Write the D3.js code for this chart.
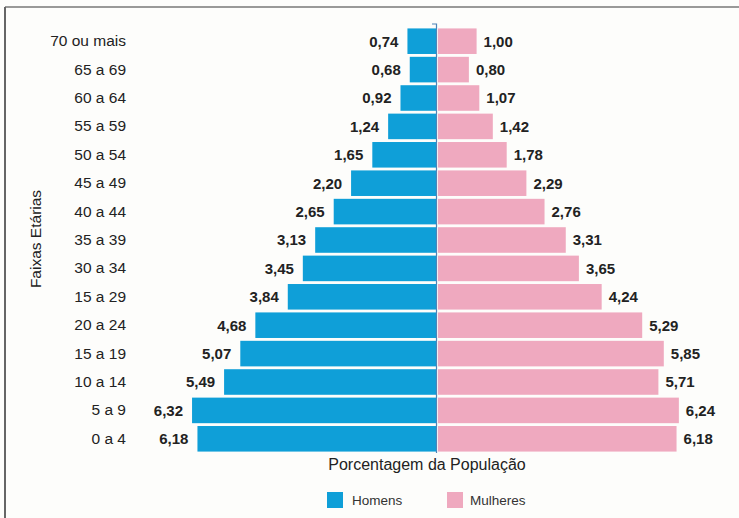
<!DOCTYPE html>
<html>
<head>
<meta charset="utf-8">
<script src="https://cdn.jsdelivr.net/npm/d3@7"></script>
<style>
  body { margin:0; background:#fdfdfb; }
  svg { display:block; font-family: "Liberation Sans", Arial, sans-serif; }
</style>
</head>
<body>
<div id="chart"></div>
<script>
const ages = ["70 ou mais","65 a 69","60 a 64","55 a 59","50 a 54","45 a 49","40 a 44","35 a 39","30 a 34","15 a 29","20 a 24","15 a 19","10 a 14","5 a 9","0 a 4"]
const homens = [0.74,0.68,0.92,1.24,1.65,2.20,2.65,3.13,3.45,3.84,4.68,5.07,5.49,6.32,6.18]
const mulheres = [1.00,0.80,1.07,1.42,1.78,2.29,2.76,3.31,3.65,4.24,5.29,5.85,5.71,6.24,6.18]
const legendLabels = ["Homens","Mulheres"]

const width = 739, height = 518
const blue = "#0f9fd8", pink = "#efa9bf"
const fmt = v => v.toFixed(2).replace(".", ",")

const svg = d3.select("#chart").append("svg")
  .attr("width", width)
  .attr("height", height)

// frame lines (top and left only)
svg.append("line").attr("x1",5).attr("x2",width).attr("y1",7).attr("y2",7)
  .attr("stroke","#777").attr("stroke-width",1.5)
svg.append("line").attr("x1",5).attr("x2",5).attr("y1",7).attr("y2",height)
  .attr("stroke","#666").attr("stroke-width",2)

const centerL = 436, centerR = 438
const xL = d3.scaleLinear().domain([0,7]).range([centerL, centerL - 270.2])
const xR = d3.scaleLinear().domain([0,7]).range([centerR, centerR + 270.2])
const y = d3.scaleBand().domain(ages).range([27, 453]).paddingInner(0.1).paddingOuter(0.05)

// homens bars
svg.selectAll(".bar-h")
  .data(ages)
  .enter().append("rect")
  .attr("class","bar-h")
  .attr("x",(d,i)=>xL(homens[i]))
  .attr("y",d=>y(d))
  .attr("width",(d,i)=>xL(0)-xL(homens[i]))
  .attr("height",y.bandwidth())
  .attr("fill",blue)

// mulheres bars
svg.selectAll(".bar-m")
  .data(ages)
  .enter().append("rect")
  .attr("class","bar-m")
  .attr("x",xR(0))
  .attr("y",d=>y(d))
  .attr("width",(d,i)=>xR(mulheres[i])-xR(0))
  .attr("height",y.bandwidth())
  .attr("fill",pink)

// center line with small hook at top
svg.append("path")
  .attr("d",`M${centerL-4},${y.range()[0]-3} H${centerL+0.5} V${y.range()[1]}`)
  .attr("fill","none").attr("stroke","#4d84b8").attr("stroke-width",1.2)

// value labels
svg.selectAll(".lab-h")
  .data(ages)
  .enter().append("text")
  .attr("x",(d,i)=>xL(homens[i]) - 9)
  .attr("y",d=>y(d)+y.bandwidth()/2)
  .attr("dy","0.36em")
  .attr("text-anchor","end")
  .attr("font-weight","bold")
  .attr("font-size","15px")
  .attr("fill","#222")
  .text((d,i)=>fmt(homens[i]))

svg.selectAll(".lab-m")
  .data(ages)
  .enter().append("text")
  .attr("x",(d,i)=>xR(mulheres[i]) + 7)
  .attr("y",d=>y(d)+y.bandwidth()/2)
  .attr("dy","0.36em")
  .attr("font-weight","bold")
  .attr("font-size","15px")
  .attr("fill","#222")
  .text((d,i)=>fmt(mulheres[i]))

// age labels
const yAxis = d3.axisLeft(y).tickSize(0).tickPadding(0)
svg.append("g")
  .attr("transform","translate(126,0)")
  .call(yAxis)
  .call(g=>g.select(".domain").remove())
  .call(g=>g.selectAll("text").attr("font-size","15.5px").attr("fill","#222")
    .attr("font-family",'"Liberation Sans", Arial, sans-serif'))

// axis titles
svg.append("text")
  .attr("transform","translate(41,239) rotate(-90)")
  .attr("text-anchor","middle")
  .attr("font-size","15.5px")
  .attr("fill","#222")
  .text("Faixas Etárias")

svg.append("text")
  .attr("x",427)
  .attr("y",470)
  .attr("text-anchor","middle")
  .attr("font-size","16px")
  .attr("fill","#222")
  .text("Porcentagem da População")

// legend
const legend = svg.selectAll(".legend")
  .data(legendLabels)
  .enter().append("g")
  .attr("transform",(d,i)=>`translate(${i===0?327:447},492)`)
legend.append("rect")
  .attr("width",16).attr("height",16)
  .attr("fill",(d,i)=>i===0?blue:pink)
legend.append("text")
  .attr("x",(d,i)=>i===0?25:23)
  .attr("y",8)
  .attr("dy","0.36em")
  .attr("font-size","13.5px")
  .attr("fill","#333")
  .text(d=>d)
</script>
</body>
</html>
